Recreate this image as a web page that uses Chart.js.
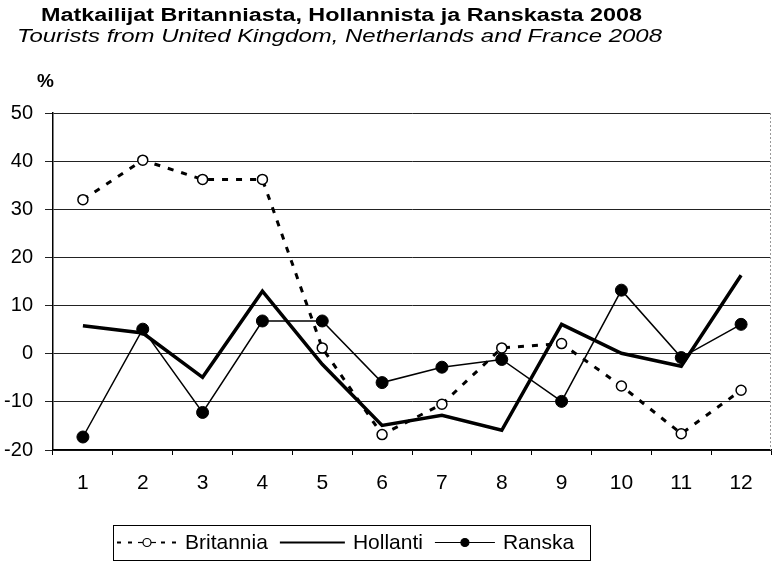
<!DOCTYPE html>
<html>
<head>
<meta charset="utf-8">
<script src="https://cdn.jsdelivr.net/npm/chart.js@4"></script>
<style>
html,body{margin:0;padding:0;background:#fff;}
#wrap{position:relative;width:778px;height:563px;}
</style>
</head>
<body>
<div id="wrap"><canvas id="chart" width="778" height="563"></canvas></div>
<script>
const months=["1","2","3","4","5","6","7","8","9","10","11","12"];
const britannia=[32,40.2,36.2,36.2,1.2,-16.8,-10.5,1.2,2.1,-6.7,-16.6,-7.6];
const hollanti=[5.8,4.3,-4.9,13,-2.2,-14.9,-12.8,-15.9,6.1,0.1,-2.6,16.3];
const ranska=[-17.3,5.1,-12.2,6.8,6.8,-6,-2.8,-1.2,-9.9,13.2,-0.8,6.1];
const yTicks=[50,40,30,20,10,0,-10,-20];

const FONT="'Liberation Sans',Arial,sans-serif";

// text drawn squeezed/stretched to the width it has in the scan
function wideText(ctx,txt,x,y,w){
  const m=ctx.measureText(txt).width;
  ctx.save();ctx.translate(x,y);ctx.scale(w/m,1);ctx.fillText(txt,0,0);ctx.restore();
}

// titles, right frame and legend drawn on the canvas
const decor={
  id:"decor",
  afterDraw(ch){
    const ctx=ch.ctx,a=ch.chartArea;
    ctx.save();
    ctx.fillStyle="#000";
    ctx.textBaseline="alphabetic";
    ctx.font="bold 18px "+FONT;
    wideText(ctx,"Matkailijat Britanniasta, Hollannista ja Ranskasta 2008",41,21,601);
    ctx.font="italic 18px "+FONT;
    wideText(ctx,"Tourists from United Kingdom, Netherlands and France 2008",17,42,645);
    ctx.font="bold 19px "+FONT;
    ctx.fillText("%",37,87);
    // right frame
    ctx.strokeStyle="#999";ctx.lineWidth=1;ctx.setLineDash([2,2]);
    ctx.beginPath();ctx.moveTo(a.right-0.5,a.top);ctx.lineTo(a.right-0.5,a.bottom);ctx.stroke();
    ctx.setLineDash([]);
    // legend
    const bx=113,by=525,bw=477,bh=35,cy=by+bh/2;
    ctx.strokeStyle="#000";ctx.lineWidth=1;
    ctx.strokeRect(bx+0.5,by+0.5,bw,bh);
    ctx.font="21px "+FONT;
    ctx.textBaseline="middle";
    let x=bx+4;
    ch.data.datasets.forEach(ds=>{
      const sw=ds.label==="Hollanti"?65:60;
      ctx.strokeStyle="#000";
      ctx.lineWidth=ds.label==="Hollanti"?2.2:(ds.borderDash?2:1.2);
      ctx.setLineDash(ds.borderDash?[4,7]:[]);
      ctx.beginPath();ctx.moveTo(x,cy);ctx.lineTo(x+sw,cy);ctx.stroke();
      ctx.setLineDash([]);
      if(ds.pointRadius>0){
        if(ds.borderDash){ctx.fillStyle="#fff";ctx.fillRect(x+sw/2-9,cy-3,18,6);
          ctx.lineWidth=1.2;ctx.beginPath();ctx.moveTo(x+sw/2-9,cy);ctx.lineTo(x+sw/2+9,cy);ctx.stroke();}
        ctx.beginPath();ctx.arc(x+sw/2,cy,4,0,Math.PI*2);
        ctx.fillStyle=ds.pointBackgroundColor;ctx.fill();
        ctx.lineWidth=1.2;ctx.strokeStyle="#000";ctx.stroke();
      }
      x+=sw+8;
      ctx.fillStyle="#000";
      ctx.fillText(ds.label,x,cy+1);
      x+=ctx.measureText(ds.label).width+12;
    });
    ctx.restore();
  }
};

new Chart(document.getElementById("chart"),{
  type:"line",
  data:{labels:months,datasets:[
    {label:"Britannia",data:britannia,borderColor:"#000",borderWidth:3,borderDash:[6,8],
      pointRadius:5,pointBackgroundColor:"#fff",pointBorderColor:"#000",pointBorderWidth:1.5,tension:0},
    {label:"Hollanti",data:hollanti,borderColor:"#000",borderWidth:3.5,pointRadius:0,tension:0},
    {label:"Ranska",data:ranska,borderColor:"#000",borderWidth:1.5,
      pointRadius:6,pointBackgroundColor:"#000",pointBorderColor:"#000",pointBorderWidth:1,tension:0}
  ]},
  options:{
    responsive:false,animation:false,
    layout:{padding:{top:113,right:1,left:0,bottom:0}},
    plugins:{legend:{display:false},tooltip:{enabled:false}},
    scales:{
      x:{offset:true,
        grid:{offset:true,drawOnChartArea:false,drawTicks:true,tickLength:5,color:"#000"},
        border:{color:"#000",width:1.5},
        ticks:{color:"#000",font:{family:FONT,size:21},padding:16,maxRotation:0},
        afterFit:s=>{s.height=113;}},
      y:{min:-20,max:50,
        afterBuildTicks:s=>{s.ticks=yTicks.map(v=>({value:v}));},
        grid:{color:"#222",lineWidth:1,tickLength:8},
        border:{color:"#000",width:1.5},
        ticks:{color:"#000",font:{family:FONT,size:20},padding:12},
        afterFit:s=>{s.width=53;}}
    }
  },
  plugins:[decor]
});
</script>
</body>
</html>
